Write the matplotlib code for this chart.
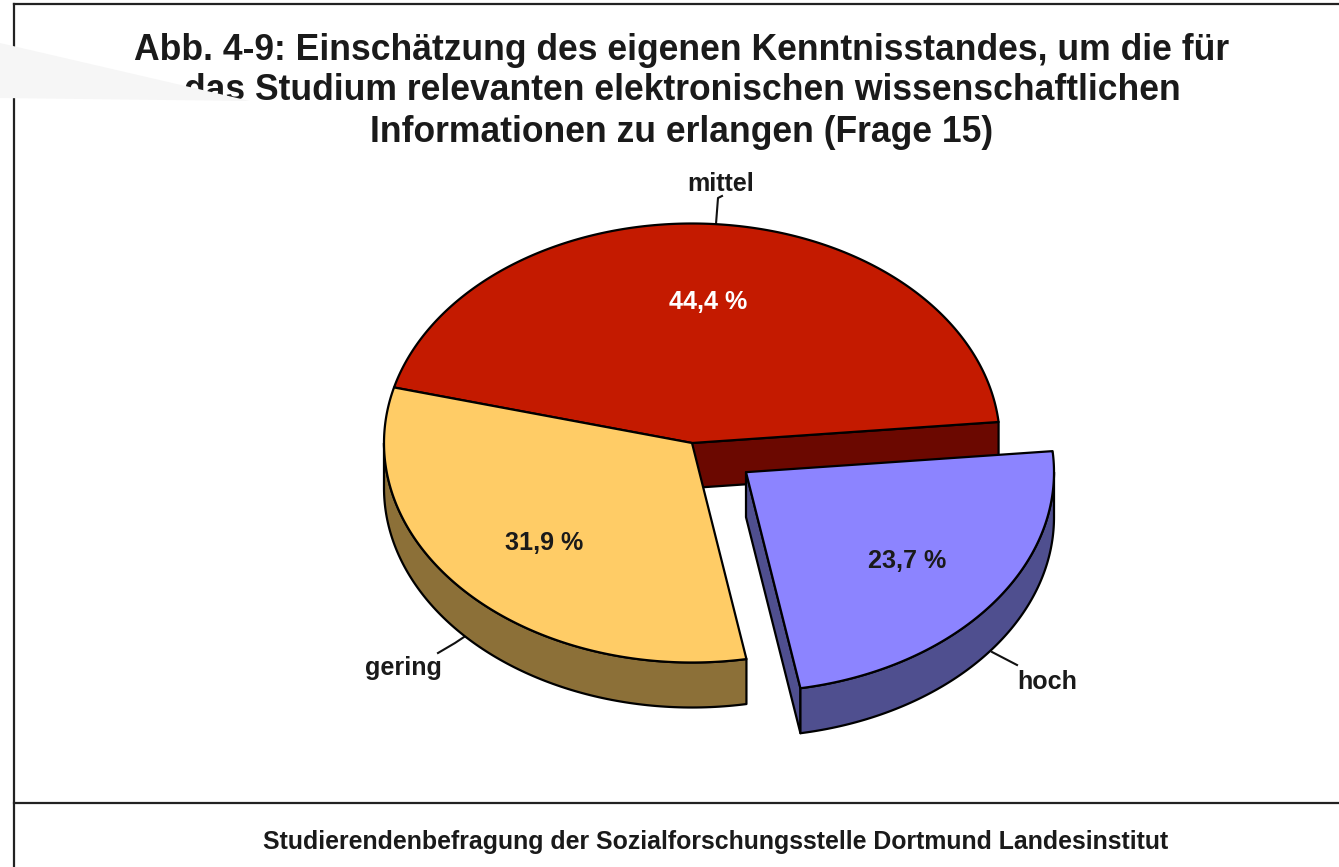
"""Exploded 3D-style pie chart of the self-assessed knowledge level (Frage 15)."""
import matplotlib
matplotlib.use("Agg")
import matplotlib.pyplot as plt
import numpy as np
from matplotlib.patches import Polygon

TITLE_LINES = [
    "Abb. 4-9: Einschätzung des eigenen Kenntnisstandes, um die für",
    "das Studium relevanten elektronischen wissenschaftlichen",
    "Informationen zu erlangen (Frage 15)",
]
FOOTER = "Studierendenbefragung der Sozialforschungsstelle Dortmund Landesinstitut"

# counter-clockwise from the start angle
CATEGORIES = ["mittel", "gering", "hoch"]
VALUES = [44.4, 31.9, 23.7]
EXPLODE = [0.0, 0.0, 0.22]

TOP_COLOR = ["#c41a00", "#ffcc66", "#8c84ff"]
SIDE_COLOR = ["#6b0800", "#8c7038", "#4f4f8f"]
LABEL_COLOR = ["white", "#1a1a1a", "#1a1a1a"]

CX, CY = 692.0, 443.0
RX, RY = 308.0, 219.5
DEPTH = 45.0
START = 5.5
TEXT_DARK = "#1a1a1a"
FONT = "Liberation Sans"


def rim(t0, t1, cx, cy, n=120):
    t = np.radians(np.linspace(t0, t1, n))
    return cx + RX * np.cos(t), cy - RY * np.sin(t)


def add_poly(ax, x, y, color, zorder):
    ax.add_patch(Polygon(np.column_stack([x, y]), closed=True, facecolor=color,
                         edgecolor="black", linewidth=1.6, joinstyle="round",
                         zorder=zorder))


fig = plt.figure(figsize=(13.39, 8.67), dpi=100)
ax = fig.add_axes([0, 0, 1, 1])
ax.set_xlim(0, 1339)
ax.set_ylim(867, 0)
ax.axis("off")

# Page frame
frame = dict(color="#222222", lw=1.6, zorder=1)
ax.plot([14, 14], [867, 4], **frame)
ax.plot([14, 1339], [4, 4], **frame)
ax.plot([14, 1339], [803, 803], **frame)

# Slices
spans = np.array(VALUES) / sum(VALUES) * 360
starts = START + np.concatenate([[0], np.cumsum(spans)[:-1]])

for i, (t0, span) in enumerate(zip(starts, spans)):
    t1 = t0 + span
    mid = np.radians(t0 + span / 2)
    cx = CX + EXPLODE[i] * RX * np.cos(mid)
    cy = CY - EXPLODE[i] * RY * np.sin(mid)
    base = 10 * (1 if EXPLODE[i] == 0 else 2)

    # Outer wall, only where the rim faces the viewer
    a, b = max(t0, 180), min(t1, 360)
    if a < b:
        x, y = rim(a, b, cx, cy)
        add_poly(ax, np.r_[x, x[::-1]], np.r_[y, y[::-1] + DEPTH],
                 SIDE_COLOR[i], base + 1)

    # Cut faces: back of the gap for the first slice, left side of the moved one
    if i == 0 or EXPLODE[i] > 0:
        x, y = rim(t0, t0, cx, cy, n=1)
        if EXPLODE[i] > 0:
            x, y = rim(t0, t0, cx, cy, n=1)
        add_poly(ax, [cx, x[0], x[0], cx], [cy, y[0], y[0] + DEPTH, cy + DEPTH],
                 SIDE_COLOR[i], base)

    # Top face
    x, y = rim(t0, t1, cx, cy, n=240)
    add_poly(ax, np.r_[cx, x], np.r_[cy, y], TOP_COLOR[i], base + 2)

    # Percentage inside the slice
    lx = cx + 0.655 * RX * np.cos(mid)
    ly = cy - 0.655 * RY * np.sin(mid)
    ax.text(lx, ly + 2, f"{VALUES[i]:.1f} %".replace(".", ","), color=LABEL_COLOR[i],
            ha="center", va="center", fontsize=18.1, fontweight="bold",
            family=FONT, zorder=40)

# Leader lines and category labels
LEADERS = {
    "mittel": ([722, 718, 716], [196, 198, 224], 721, 184),
    "gering": ([438, 455, 464], [653, 643, 637], 403, 668),
    "hoch": ([992, 1017], [652, 665], 1047, 682),
}
for name in CATEGORIES:
    xs, ys, tx, ty = LEADERS[name]
    ax.plot(xs, ys, color="#111111", lw=1.5, zorder=5)
    ax.text(tx, ty, name, color=TEXT_DARK, ha="center", va="center",
            fontsize=18.1, fontweight="bold", family=FONT, zorder=40)

# Title and footer
for text, y in zip(TITLE_LINES, [50, 90, 132]):
    ax.text(682, y, text, color=TEXT_DARK, ha="center", va="center",
            fontsize=25.6, fontweight="bold", family=FONT, zorder=5)
ax.text(716, 842, FOOTER, color=TEXT_DARK, ha="center", va="center",
        fontsize=17.9, fontweight="bold", family=FONT, zorder=5)

# Pale grey sliver lying over the top-left corner
ax.add_patch(Polygon([(0, 43), (250, 101), (0, 98)], closed=True,
                     facecolor="#f6f6f6", edgecolor="none", zorder=50))

fig.savefig("out.png", dpi=100)
